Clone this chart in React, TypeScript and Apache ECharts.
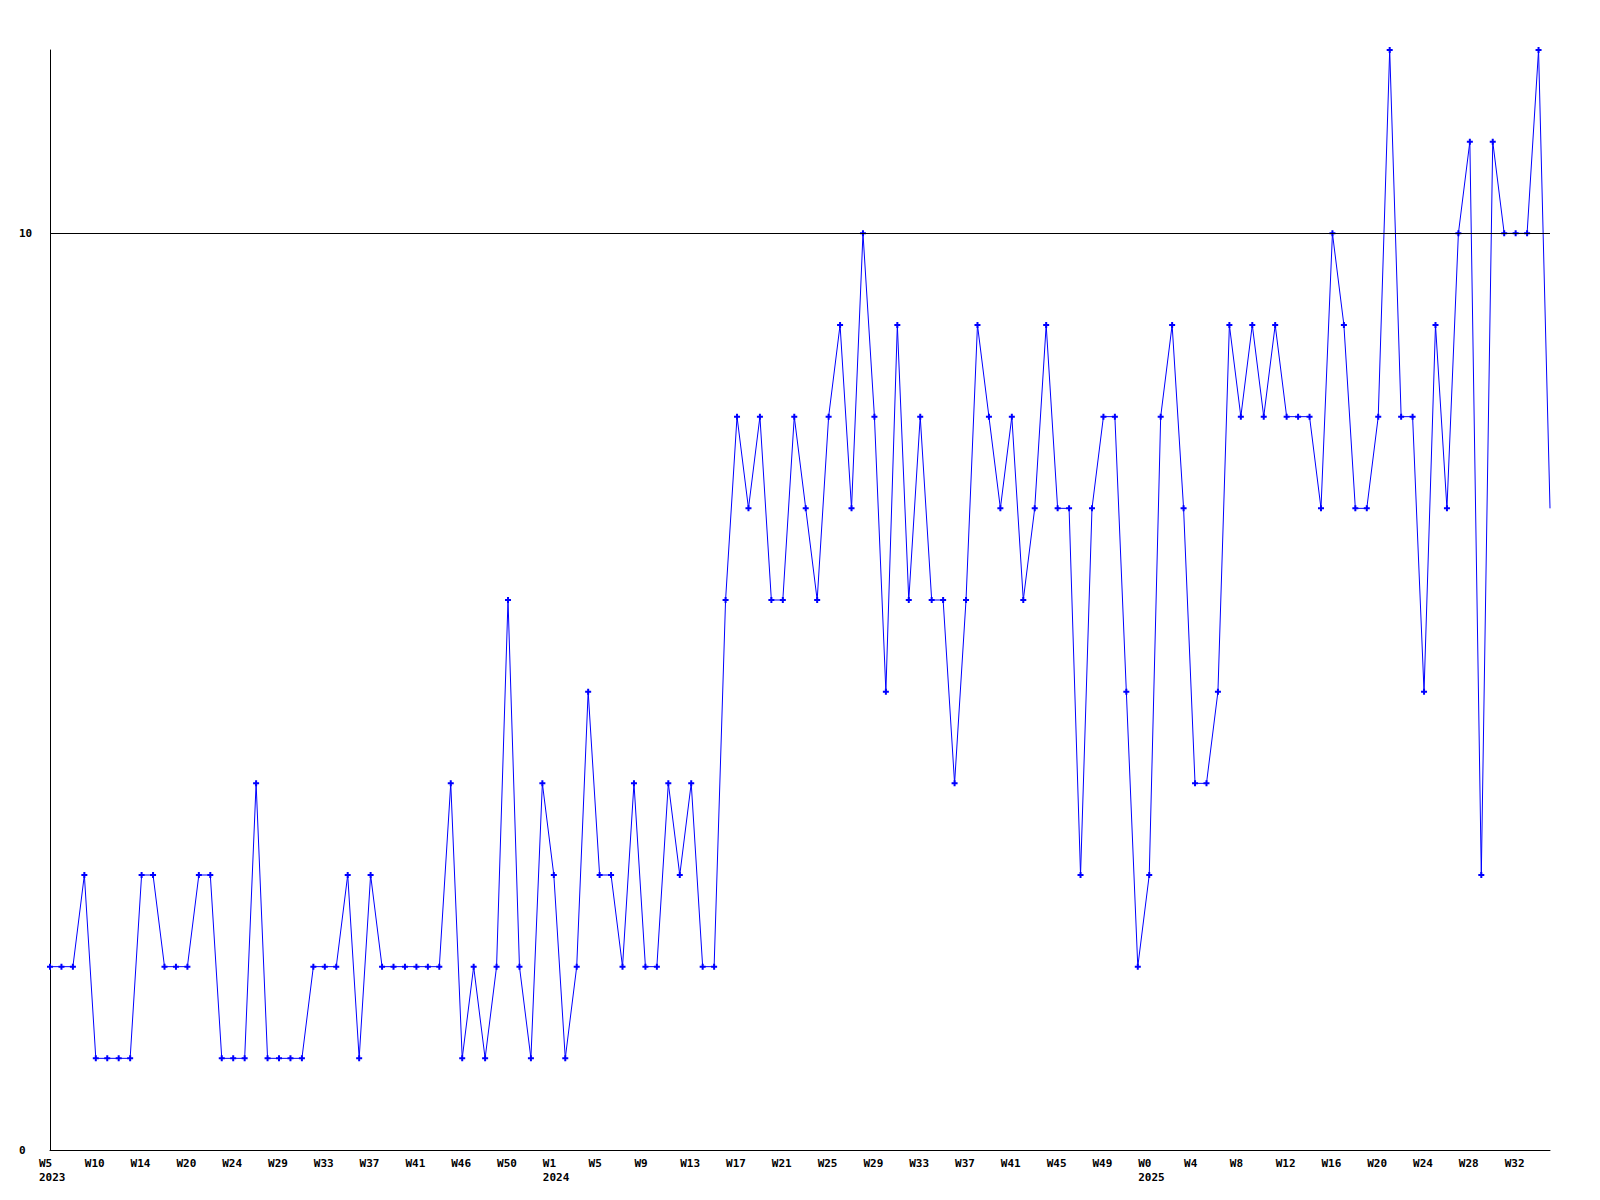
import React, { useEffect, useRef } from "react";
import * as echarts from "echarts";

// Weekly values, one per point (132 points)
const values: number[] = [
  2, 2, 2, 3, 1, 1, 1, 1, 3, 3, 2, 2, 2, 3, 3, 1, 1, 1, 4, 1,
  1, 1, 1, 2, 2, 2, 3, 1, 3, 2, 2, 2, 2, 2, 2, 4, 1, 2, 1, 2,
  6, 2, 1, 4, 3, 1, 2, 5, 3, 3, 2, 4, 2, 2, 4, 3, 4, 2, 2, 6,
  8, 7, 8, 6, 6, 8, 7, 6, 8, 9, 7, 10, 8, 5, 9, 6, 8, 6, 6, 4,
  6, 9, 8, 7, 8, 6, 7, 9, 7, 7, 3, 7, 8, 8, 5, 2, 3, 8, 9, 7,
  4, 4, 5, 9, 8, 9, 8, 9, 8, 8, 8, 7, 10, 9, 7, 7, 8, 12, 8, 8,
  5, 9, 7, 10, 11, 3, 11, 10, 10, 10, 12, 7,
];

// Tick labels, one every 4 points
const weekLabels: string[] = [
  "W5", "W10", "W14", "W20", "W24", "W29", "W33", "W37", "W41", "W46", "W50",
  "W1", "W5", "W9", "W13", "W17", "W21", "W25", "W29", "W33", "W37", "W41", "W45", "W49",
  "W0", "W4", "W8", "W12", "W16", "W20", "W24", "W28", "W32",
];
const yearLabelAt: number[] = [0, 11, 24];
const yearLabels: string[] = ["2023", "2024", "2025"];
const labelStep = 4;

const categories: string[] = values.map((_, i) => {
  if (i % labelStep !== 0) return "";
  const k = i / labelStep;
  const w = weekLabels[k];
  if (w === undefined) return "";
  const yi = yearLabelAt.indexOf(k);
  return yi >= 0 ? `${w}\n${yearLabels[yi]}` : w;
});

const plusSymbol = "path://M2,0H4V2H6V4H4V6H2V4H0V2H2Z";
const font = "'DejaVu Sans Mono', 'Liberation Mono', monospace";

export default function App() {
  const ref = useRef<HTMLDivElement>(null);
  useEffect(() => {
    if (!ref.current) return;
    const chart = echarts.init(ref.current, undefined, { renderer: "svg" });
    const lastIdx = values.length - 1;
    chart.setOption({
      animation: false,
      backgroundColor: "#ffffff",
      grid: { left: 50, right: 50, top: 50, bottom: 50, containLabel: false },
      xAxis: {
        type: "category",
        data: categories,
        boundaryGap: false,
        axisLine: { show: true, lineStyle: { color: "#000", width: 1 } },
        axisTick: { show: false },
        splitLine: { show: false },
        axisLabel: {
          interval: labelStep - 1,
          color: "#000",
          fontFamily: font,
          fontWeight: "bold",
          fontSize: 11,
          lineHeight: 14,
          align: "left",
          padding: [0, 0, 0, -11],
          margin: 6,
        },
      },
      yAxis: {
        type: "value",
        min: 0,
        max: 12,
        interval: 10,
        axisLine: { show: true, lineStyle: { color: "#000", width: 1 } },
        axisTick: { show: false },
        splitLine: { show: false },
        axisLabel: {
          showMaxLabel: false,
          color: "#000",
          fontFamily: font,
          fontWeight: "bold",
          fontSize: 11,
          align: "left",
          margin: 31,
        },
      },
      series: [
        {
          type: "line",
          data: values.map((v, i) => (i === lastIdx ? { value: v, symbol: "none" } : v)),
          symbol: plusSymbol,
          symbolSize: 6,
          showAllSymbol: true,
          lineStyle: { color: "#0000ff", width: 1 },
          itemStyle: { color: "#0000ff" },
          markLine: {
            silent: true,
            symbol: ["none", "none"],
            label: { show: false },
            lineStyle: { color: "#000", width: 1, type: "solid" },
            data: [{ yAxis: 10 }],
          },
        },
      ],
    });
    return () => chart.dispose();
  }, []);
  return (
    <div
      ref={ref}
      style={{ position: "fixed", left: 0, top: 0, width: 1600, height: 1200, background: "#fff" }}
    />
  );
}
